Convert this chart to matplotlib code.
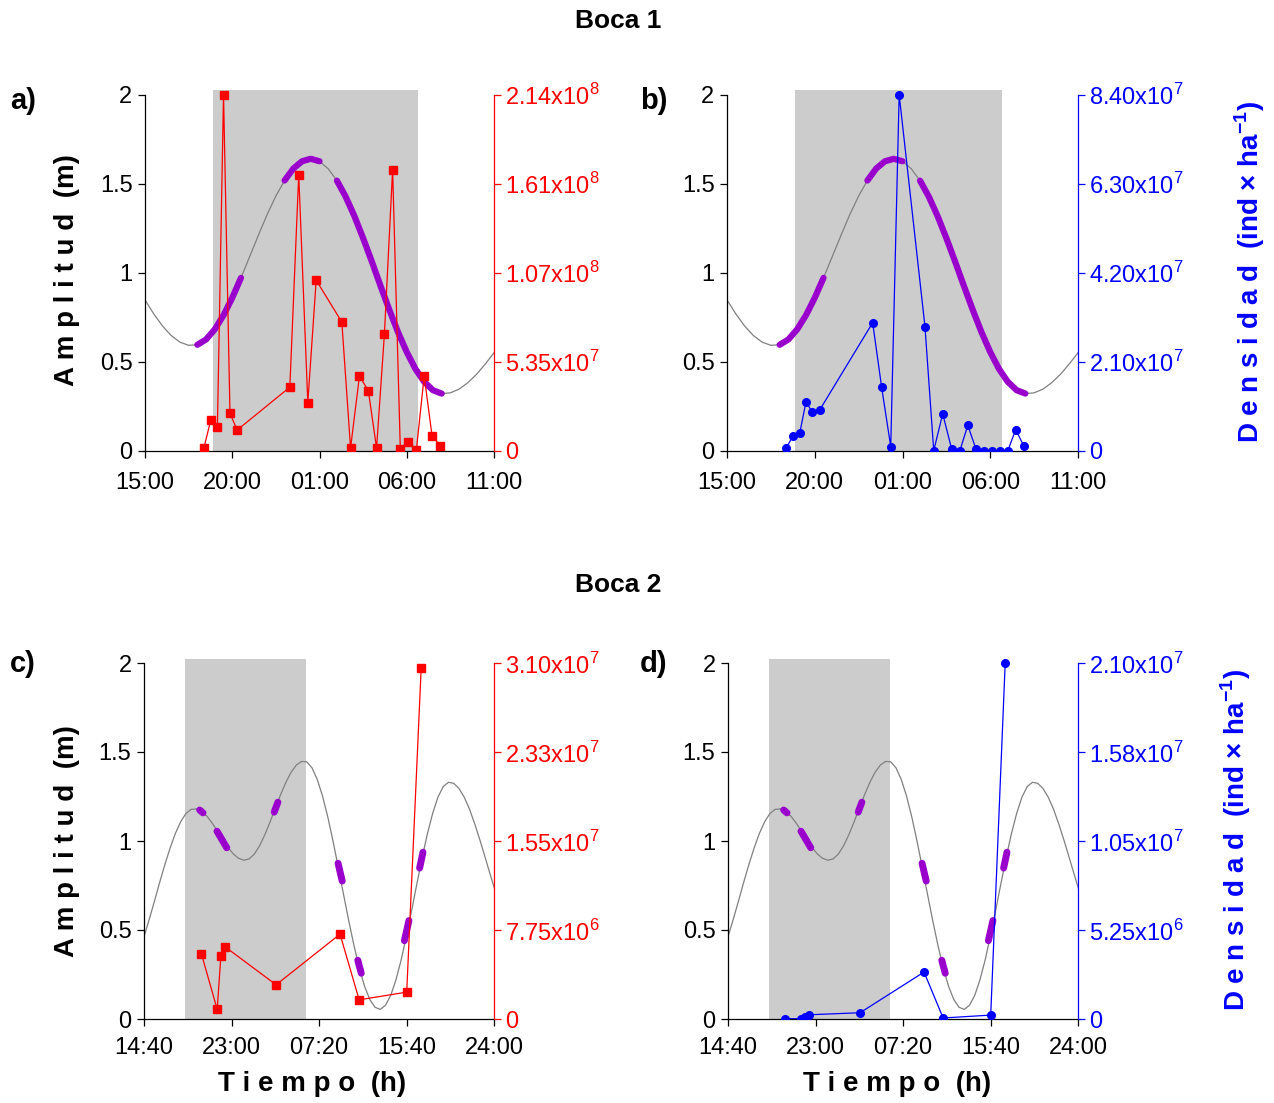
import matplotlib
matplotlib.use("Agg")
import matplotlib.pyplot as plt
import numpy as np

plt.rcParams['font.family'] = ['Liberation Sans', 'DejaVu Sans']
plt.rcParams['mathtext.fontset'] = 'custom'
plt.rcParams['mathtext.rm'] = 'Liberation Sans'
plt.rcParams['mathtext.bf'] = 'Liberation Sans:bold'

W, H = 1274, 1103
YTOP = 2.025

# Boca 1 (hours after 15:00)
tide1_t = np.arange(0, 20.01, 0.5)
tide1 = [0.847, 0.769, 0.701, 0.647, 0.610, 0.592, 0.595, 0.625, 0.682, 0.761,
         0.859, 0.971, 1.091, 1.211, 1.327, 1.431, 1.518, 1.585, 1.626, 1.640,
         1.626, 1.584, 1.517, 1.427, 1.318, 1.194, 1.062, 0.925, 0.792, 0.666,
         0.554, 0.459, 0.387, 0.340, 0.321, 0.325, 0.346, 0.382, 0.429, 0.487,
         0.550]
night1 = (3.9, 15.65)
purple1 = [(3.0, 5.5), (8.0, 10.0), (11.0, 17.0)]
samp1 = [3.37, 3.77, 4.15, 4.50, 4.87, 5.28, 8.30, 8.81, 9.33, 9.81, 11.28, 11.78,
         12.29, 12.80, 13.27, 13.72, 14.19, 14.63, 15.09, 15.55, 16.00, 16.45, 16.92]
dens_a = [1.4e6, 1.85e7, 1.44e7, 2.14e8, 2.25e7, 1.24e7, 3.82e7, 1.66e8, 2.89e7,
          1.025e8, 7.73e7, 1.6e6, 4.49e7, 3.6e7, 1.6e6, 7.02e7, 1.69e8, 1.2e6,
          5.5e6, 4e5, 4.49e7, 8.9e6, 3.0e6]
dens_b = [6.3e5, 3.53e6, 4.24e6, 1.15e7, 9.07e6, 9.6e6, 3.02e7, 1.5e7, 9.7e5,
          8.4e7, 2.93e7, 0, 8.7e6, 4.2e5, 0, 6.0e6, 3.4e5, 0, 0, 0, 0, 4.96e6,
          1.05e6]
xt1 = [0, 5, 10, 15, 20]
xl1 = ['15:00', '20:00', '01:00', '06:00', '11:00']

# Boca 2 (hours after 14:40)
tide2_t = np.arange(0, 33.51, 0.5)
tide2 = [0.462, 0.560, 0.663, 0.769, 0.870, 0.963, 1.044, 1.109, 1.155, 1.178,
         1.180, 1.166, 1.139, 1.100, 1.055, 1.008, 0.964, 0.928, 0.903, 0.892,
         0.899, 0.926, 0.972, 1.034, 1.106, 1.183, 1.259, 1.328, 1.385, 1.426,
         1.447, 1.445, 1.411, 1.346, 1.253, 1.136, 1.000, 0.853, 0.701, 0.552,
         0.412, 0.288, 0.185, 0.110, 0.066, 0.054, 0.077, 0.133, 0.221, 0.334,
         0.468, 0.613, 0.763, 0.909, 1.043, 1.157, 1.247, 1.306, 1.330, 1.324,
         1.295, 1.246, 1.179, 1.096, 1.004, 0.906, 0.806, 0.710]
night2 = (3.9, 15.45)
purple2 = [(5.30, 1.174, 5.62, 1.158), (6.95, 1.055, 7.88, 0.962),
           (12.40, 1.162, 12.75, 1.218), (18.48, 0.875, 18.88, 0.775),
           (20.36, 0.330, 20.69, 0.257), (24.80, 0.440, 25.23, 0.553),
           (26.25, 0.848, 26.57, 0.937)]
samp2 = [5.46, 6.97, 7.32, 7.76, 12.58, 18.67, 20.49, 25.02, 26.40]
dens_c = [5.70e6, 8.4e5, 5.47e6, 6.26e6, 2.98e6, 7.39e6, 1.67e6, 2.34e6, 3.06e7]
dens_d = [2e4, 2e4, 1.4e5, 2.5e5, 3.7e5, 2.77e6, 6e4, 2.3e5, 2.1e7]
xt2 = [0, 8 + 1/3, 16 + 2/3, 25, 33 + 1/3]
xl2 = ['14:40', '23:00', '07:20', '15:40', '24:00']

yt = [0, 0.5, 1, 1.5, 2]
ytl = ['0', '0.5', '1', '1.5', '2']
rt_a = ['0', '5.35x10$^{7}$', '1.07x10$^{8}$', '1.61x10$^{8}$', '2.14x10$^{8}$']
rt_b = ['0', '2.10x10$^{7}$', '4.20x10$^{7}$', '6.30x10$^{7}$', '8.40x10$^{7}$']
rt_c = ['0', '7.75x10$^{6}$', '1.55x10$^{7}$', '2.33x10$^{7}$', '3.10x10$^{7}$']
rt_d = ['0', '5.25x10$^{6}$', '1.05x10$^{7}$', '1.58x10$^{7}$', '2.10x10$^{7}$']
rtop = {'a': 2.14e8, 'b': 8.40e7, 'c': 3.10e7, 'd': 2.10e7}

fig = plt.figure(figsize=(W / 100, H / 100), dpi=100)


def panel(pos, tt, tv, night, samp, dens, top, rlabels, color, marker, xt, xl, xpad):
    ax = fig.add_axes(pos)
    ax.axvspan(night[0], night[1], color='#cccccc', lw=0, zorder=0)
    ax.plot(tt, tv, color='#808080', lw=0.9, zorder=1)
    ax.set_xlim(xt[0], xt[-1])
    ax.set_ylim(0, YTOP)
    ax.set_xticks(xt)
    ax.set_xticklabels(xl)
    ax.set_yticks(yt)
    ax.set_yticklabels(ytl)
    ax.tick_params(direction='out', length=5, width=0.9, labelsize=17, pad=4)
    ax.tick_params(axis='x', pad=xpad)
    for s in ['top', 'right']:
        ax.spines[s].set_visible(False)
    ax.spines['left'].set_bounds(0, 2)
    ax.spines['left'].set_linewidth(0.9)
    ax.spines['bottom'].set_linewidth(0.9)

    ax2 = ax.twinx()
    ax2.plot(samp, dens, color=color, marker=marker, ms=5.5, lw=0.9)
    ax2.set_ylim(0, top * YTOP / 2)
    ax2.set_yticks(np.linspace(0, top, 5))
    ax2.set_yticklabels(rlabels)
    ax2.tick_params(axis='y', direction='out', length=5, width=0.9, labelsize=17,
                    pad=3, colors=color)
    for s in ['top', 'left', 'bottom']:
        ax2.spines[s].set_visible(False)
    ax2.spines['right'].set_color(color)
    ax2.spines['right'].set_bounds(0, top)
    ax2.spines['right'].set_linewidth(0.9)
    return ax


top_y = 1 - 450.7 / H
bot_y = 1 - 1019 / H
ph = YTOP * 178 / H

ax_a = panel([145 / W, top_y, 349 / W, ph], tide1_t, tide1, night1, samp1, dens_a,
             rtop['a'], rt_a, '#ff0000', 's', xt1, xl1, 10)
ax_b = panel([727 / W, top_y, 351 / W, ph], tide1_t, tide1, night1, samp1, dens_b,
             rtop['b'], rt_b, '#0000ff', 'o', xt1, xl1, 10)
ax_c = panel([144 / W, bot_y, 350 / W, ph], tide2_t, tide2, night2, samp2, dens_c,
             rtop['c'], rt_c, '#ff0000', 's', xt2, xl2, 8)
ax_d = panel([728 / W, bot_y, 350 / W, ph], tide2_t, tide2, night2, samp2, dens_d,
             rtop['d'], rt_d, '#0000ff', 'o', xt2, xl2, 8)

# sampling periods highlighted on the tide curve
t1 = np.asarray(tide1_t)
v1 = np.asarray(tide1)
for ax in [ax_a, ax_b]:
    for a, b in purple1:
        m = (t1 >= a - 1e-9) & (t1 <= b + 1e-9)
        ax.plot(t1[m], v1[m], color='#9900cc', lw=4.5, solid_capstyle='round',
                zorder=2)
for ax in [ax_c, ax_d]:
    for x0, y0, x1, y1 in purple2:
        ax.plot([x0, x1], [y0, y1], color='#9900cc', lw=5, solid_capstyle='round',
                zorder=2)

fig.text(618 / W, 1 - 21 / H, 'Boca 1', ha='center', va='center', fontsize=19,
         fontweight='bold')
fig.text(618 / W, 1 - 585 / H, 'Boca 2', ha='center', va='center', fontsize=19,
         fontweight='bold')
for lab, x, y in [('a)', 10, 101), ('b)', 640, 101), ('c)', 10, 664), ('d)', 640, 664)]:
    fig.text(x / W, 1 - y / H, lab, ha='left', va='center', fontsize=21,
             fontweight='bold')

for y in [270, 841]:
    fig.text(67 / W, 1 - y / H, 'A m p l i t u d  (m)', rotation=90, ha='center',
             va='center', fontsize=20, fontweight='bold')

dlabel = r'D e n s i d a d  (ind $\mathbf{\times}$ ha$^{\mathbf{-1}}$)'
fig.text(1250 / W, 1 - 272 / H, dlabel, rotation=90, ha='center', va='center',
         fontsize=20, fontweight='bold', color='#0000ff')
fig.text(1236 / W, 1 - 840 / H, dlabel, rotation=90, ha='center', va='center',
         fontsize=20, fontweight='bold', color='#0000ff')

for x in [312, 897]:
    fig.text(x / W, 1 - 1084 / H, 'T i e m p o  (h)', ha='center', va='center',
             fontsize=20, fontweight='bold')

fig.savefig('out.png', dpi=100)
